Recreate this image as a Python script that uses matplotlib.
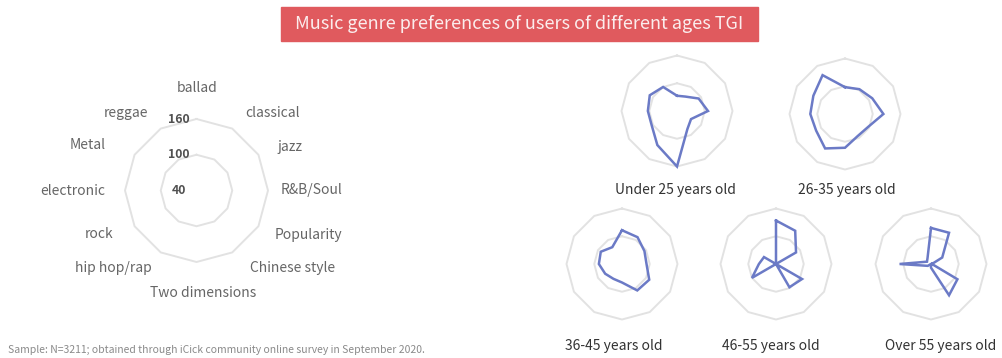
import numpy as np
import matplotlib

matplotlib.use("Agg")
import matplotlib.pyplot as plt
from matplotlib.patches import Rectangle

plt.rcParams["font.family"] = ["Noto Sans CJK SC", "DejaVu Sans"]

genres = [
    "ballad", "classical", "jazz", "R&B/Soul", "Popularity", "Chinese style",
    "Two dimensions", "hip hop/rap", "rock", "electronic", "Metal", "reggae",
]
ring_levels = [100, 160]
tick_values = [160, 100, 40]

age_groups = [
    "Under 25 years old", "26-35 years old", "36-45 years old",
    "46-55 years old", "Over 55 years old",
]
tgi_under25 = [73, 76, 94, 107, 75, 85, 160, 125, 103, 103, 108, 100]
tgi_26_35 = [98, 102, 108, 123, 97, 95, 113, 126, 112, 115, 119, 137]
tgi_36_45 = [113, 107, 96, 93, 108, 106, 80, 77, 82, 90, 93, 82]
tgi_46_55 = [134, 123, 90, 40, 105, 98, 40, 40, 100, 77, 70, 40]
tgi_over55 = [118, 118, 68, 42, 106, 118, 48, 40, 48, 108, 50, 55]
age_series = [tgi_under25, tgi_26_35, tgi_36_45, tgi_46_55, tgi_over55]

R_MIN, R_MAX = 40, 160
LINE_BLUE = "#6B7AC6"
RING_GREY = "#E2E2E2"
TEXT_DARK = "#333333"
TEXT_MID = "#666666"

W, H = 1003, 358
fig = plt.figure(figsize=(W / 100, H / 100), dpi=100)
fig.patch.set_facecolor("white")

angles = np.linspace(0, 2 * np.pi, len(genres), endpoint=False)
closed = np.append(angles, angles[0])


def radar_axes(cx, cy, radius):
    """Polar axes whose outer ring sits at (cx, cy) px with given radius."""
    ax = fig.add_axes([(cx - radius) / W, (H - cy - radius) / H,
                       2 * radius / W, 2 * radius / H], projection="polar")
    ax.set_theta_zero_location("N")
    ax.set_theta_direction(-1)
    ax.set_ylim(R_MIN, R_MAX)
    ax.grid(False)
    ax.spines["polar"].set_visible(False)
    ax.set_xticks([])
    ax.set_yticks([])
    ax.patch.set_alpha(0)
    for lvl in ring_levels:
        ax.plot(closed, [lvl] * len(closed), color=RING_GREY, lw=1.4,
                clip_on=False, zorder=1)
    return ax


# big reference radar with axis names
big = radar_axes(196.5, 190.5, 71.5)

# label anchor offsets from the radar centre in pixels (x right, y down)
label_offsets = [
    (0.5, -102.5, "center"), (48.5, -77.5, "left"), (81.5, -43.5, "left"),
    (84.5, -0.5, "left"), (78.5, 44.5, "left"), (53.5, 77.5, "left"),
    (6.5, 102.5, "center"), (-44.5, 77.5, "right"), (-83.5, 43.5, "right"),
    (-91.5, 0.5, "right"), (-90.5, -45.5, "right"), (-48.5, -77.5, "right"),
]
for name, (dx, dy, ha) in zip(genres, label_offsets):
    big.annotate(name, xy=(0, R_MIN), xytext=(dx, -dy),
                 textcoords="offset pixels", ha=ha, va="center",
                 fontsize=10, color=TEXT_MID, annotation_clip=False)
for v in tick_values:
    big.annotate(str(v), xy=(0, v), xytext=(-18, 0),
                 textcoords="offset pixels", ha="center", va="center",
                 fontsize=8.8, fontweight="bold", color="#505050",
                 annotation_clip=False)

# one small radar per age group
small_centers = [(677, 111), (845, 114), (622, 264), (776, 264), (931, 264)]
label_pos = [(675, 190), (847, 190), (614, 346), (771, 346), (941, 346)]
for (cx, cy), values, name, (lx, ly) in zip(small_centers, age_series,
                                            age_groups, label_pos):
    ax = radar_axes(cx, cy, 55.5)
    ax.plot(closed, values + values[:1], color=LINE_BLUE, lw=1.8,
            solid_joinstyle="miter", clip_on=False, zorder=3)
    fig.text(lx / W, 1 - ly / H, name, ha="center", va="center",
             fontsize=10, color=TEXT_DARK)

# title banner
fig.patches.append(Rectangle((281 / W, 1 - 40.5 / H), 477 / W, 33.5 / H,
                             transform=fig.transFigure, color="#E05A5E",
                             zorder=0))
fig.text(519.5 / W, 1 - 24 / H,
         "Music genre preferences of users of different ages TGI",
         ha="center", va="center", fontsize=13, color="#FBEDED")

fig.text(8 / W, 1 - 350 / H,
         "Sample: N=3211; obtained through iCick community online survey in September 2020.",
         ha="left", va="center", fontsize=7.5, color="#8A8A8A")

fig.savefig("out.png", dpi=100, facecolor="white")
